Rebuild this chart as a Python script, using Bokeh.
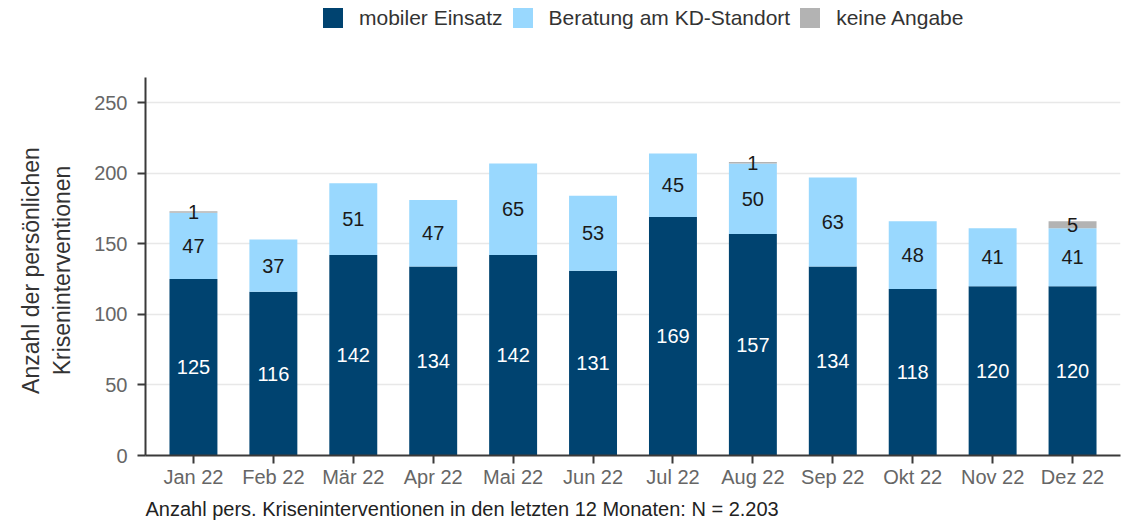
from bokeh.plotting import figure
from bokeh.models import (ColumnDataSource, Range1d, FixedTicker, Legend, LegendItem,
                          LabelSet, Title)
from bokeh.core.properties import value
from bokeh.embed import file_html
from bokeh.resources import INLINE

months = ["Jan 22", "Feb 22", "Mär 22", "Apr 22", "Mai 22", "Jun 22",
          "Jul 22", "Aug 22", "Sep 22", "Okt 22", "Nov 22", "Dez 22"]
mobil = [125, 116, 142, 134, 142, 131, 169, 157, 134, 118, 120, 120]
beratung = [47, 37, 51, 47, 65, 53, 45, 50, 63, 48, 41, 41]
keine = [1, 0, 0, 0, 0, 0, 0, 1, 0, 0, 0, 5]
series_names = ["mobiler Einsatz", "Beratung am KD-Standort", "keine Angabe"]
colors = ["#004370", "#99D8FE", "#B3B3B3"]
y_ticks = [0, 50, 100, 150, 200, 250]
y_axis_max = 268
footnote = "Anzahl pers. Kriseninterventionen in den letzten 12 Monaten: N = 2.203"
y_label_lines = ["Anzahl der persönlichen", "Kriseninterventionen"]

FONT = "Liberation Sans"

xs = list(range(len(months)))
source = ColumnDataSource(dict(x=xs, mobil=mobil, beratung=beratung, keine=keine))

# frame extends to the top so the legend can sit inside it; the axis line is bounded
p = figure(width=1123, height=524, output_backend="svg", toolbar_location=None,
           x_range=Range1d(-0.6, 11.6), y_range=Range1d(0, 321),
           min_border_left=145, min_border_right=3, min_border_top=2,
           min_border_bottom=68)
p.outline_line_color = None
p.background_fill_color = "white"
p.border_fill_color = "white"

renderers = p.vbar_stack(["mobil", "beratung", "keine"], x="x", width=0.6,
                         color=colors, line_color=None, source=source)

# labels
lab_x, lab_y, lab_t, lab_c = [], [], [], []
for i in xs:
    base = 0
    for vals, col in ((mobil, "white"), (beratung, "#1a1a1a"), (keine, "#1a1a1a")):
        v = vals[i]
        if v > 0:
            lab_x.append(i)
            lab_y.append(base + v / 2)
            lab_t.append(str(v))
            lab_c.append(col)
        base += v
lsrc = ColumnDataSource(dict(x=lab_x, y=lab_y, t=lab_t, c=lab_c))
p.add_layout(LabelSet(x="x", y="y", text="t", source=lsrc, text_color="c",
                      text_align="center", text_baseline="middle",
                      text_font=value(FONT), text_font_size="20px"))

# axes
p.xaxis.ticker = FixedTicker(ticks=xs)
p.xaxis.major_label_overrides = {i: m for i, m in enumerate(months)}
p.yaxis.ticker = FixedTicker(ticks=y_ticks)
p.yaxis.bounds = (0, y_axis_max)
for ax in (p.xaxis, p.yaxis):
    ax.axis_line_color = "#3a3a3a"
    ax.axis_line_width = 2
    ax.major_tick_line_color = "#3a3a3a"
    ax.major_tick_line_width = 2
    ax.major_tick_out = 8
    ax.major_tick_in = 0
    ax.minor_tick_line_color = None
    ax.major_label_text_font = FONT
    ax.major_label_text_font_size = "20px"
    ax.major_label_text_color = "#666666"
p.xaxis.major_label_standoff = 2
p.yaxis.major_label_standoff = 10
# non-breaking spaces keep the centred label at the middle of the bounded axis
pad = "\u00a0" * 13
p.yaxis.axis_label = "\n".join(line + pad for line in y_label_lines)
p.yaxis.axis_label_text_font = FONT
p.yaxis.axis_label_text_font_size = "23px"
p.yaxis.axis_label_text_font_style = "normal"
p.yaxis.axis_label_text_color = "#333333"
p.yaxis.axis_label_standoff = 16

p.xgrid.grid_line_color = None
p.ygrid.grid_line_color = "#e8e8e8"
p.ygrid.grid_line_width = 1.5

# legend
items = [LegendItem(label=n, renderers=[r]) for n, r in zip(series_names, renderers)]
legend = Legend(items=items, orientation="horizontal", location=(175, 425),
                glyph_width=25, glyph_height=25, label_standoff=14, spacing=7,
                padding=0, margin=0, label_height=20,
                label_text_font=FONT, label_text_font_size="21px",
                label_text_color="#333333", border_line_color=None,
                background_fill_alpha=0)
p.add_layout(legend, "center")

p.add_layout(Title(text=footnote, align="left", text_font=FONT,
                   text_font_size="20px", text_font_style="normal",
                   text_color="#222222", standoff=10), "below")

open("out.html", "w").write(file_html(p, INLINE))
